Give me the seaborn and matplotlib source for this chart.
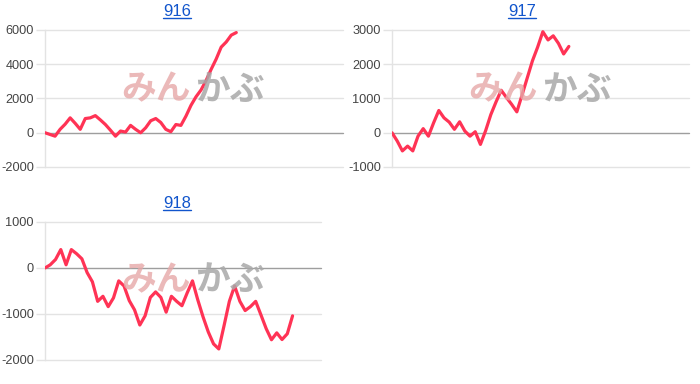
import matplotlib
matplotlib.use("Agg")
import matplotlib.pyplot as plt
import seaborn as sns
import pandas as pd
import numpy as np
from matplotlib.lines import Line2D

sns.set_theme(style="white")
plt.rcParams['font.family'] = ['Liberation Sans', 'Noto Sans CJK JP', 'DejaVu Sans']

titles = ["916", "917", "918"]

values_916 = [0, -100, -200, 200, 500, 870, 550, 200, 830, 870, 1000, 750, 480, 150,
              -200, 100, 40, 430, 200, 0, 290, 700, 830, 600, 200, 60, 480, 430, 970,
              1600, 2100, 2500, 3050, 3700, 4300, 5000, 5300, 5700, 5850]
values_917 = [0, -240, -530, -390, -530, -100, 120, -100, 290, 650, 435, 310, 100, 320,
              50, -100, 30, -340, 60, 530, 900, 1240, 1030, 830, 610, 1100, 1600, 2100,
              2500, 2950, 2710, 2830, 2610, 2300, 2520]
values_918 = [0, 70, 185, 400, 70, 400, 310, 200, -100, -300, -725, -615, -840, -650,
              -280, -390, -710, -910, -1240, -1040, -640, -520, -640, -960, -615, -725,
              -820, -540, -280, -690, -1060, -1390, -1650, -1760, -1250, -725, -390, -725,
              -925, -840, -725, -1020, -1320, -1560, -1410, -1555, -1430, -1040]

series = [values_916, values_917, values_918]
yticks = [[-2000, 0, 2000, 4000, 6000], [-1000, 0, 1000, 2000, 3000], [-2000, -1000, 0, 1000]]
xmax = [59.2, 57.1, 52.4]

W, H = 700, 384
fig = plt.figure(figsize=(7, 3.84), dpi=100)
# axes rectangles in pixels: left, right, top, bottom
rects = [(45, 343, 30, 167), (392, 689, 30, 167), (45, 321, 222, 360)]
title_pos = [(177, 12), (522, 12), (177, 204)]
wm_pos = [(193, 90), (540, 90), (193, 281)]

LINE = '#ff3355'
GRID = '#e3e3e3'
ZERO = '#9e9e9e'

for i in range(3):
    l, r, t, b = rects[i]
    ax = fig.add_axes([l / W, 1 - b / H, (r - l) / W, (b - t) / H])
    df = pd.DataFrame({'x': np.arange(len(series[i])), 'y': series[i]})
    sns.lineplot(data=df, x='x', y='y', ax=ax, color=LINE, linewidth=2.3, zorder=5)
    ax.set_xlim(0, xmax[i])
    ax.set_ylim(yticks[i][0], yticks[i][-1])
    ax.set_yticks(yticks[i])
    ax.set_yticklabels([str(v) for v in yticks[i]], fontsize=9.2, color='#444444')
    ax.set_xticks([])
    ax.set_xlabel('')
    ax.set_ylabel('')
    for v in yticks[i]:
        ax.axhline(v, color=ZERO if v == 0 else GRID, linewidth=1.0, zorder=1, clip_on=False)
    for s in ['top', 'right', 'bottom']:
        ax.spines[s].set_visible(False)
    ax.spines['left'].set_color(GRID)
    ax.spines['left'].set_linewidth(1.0)
    ax.tick_params(axis='y', length=6.5, width=1.0, pad=1.5, color=GRID, left=True)
    for tk, v in zip(ax.yaxis.get_major_ticks(), yticks[i]):
        if v == 0:
            tk.tick1line.set_color(ZERO)
    ax.patch.set_alpha(0)
    # watermark
    wx, wy = wm_pos[i]
    fig.text(wx / W - 0.003, 1 - wy / H, "みん", color='#e6a8a8', alpha=0.8,
             fontsize=25, fontweight='bold', ha='right', va='center',
             zorder=0)
    fig.text(wx / W + 0.003, 1 - wy / H, "かぶ", color='#a8a8a8', alpha=0.85,
             fontsize=25, fontweight='bold', ha='left', va='center',
             zorder=0)

# titles with underline
title_texts = []
for i in range(3):
    tx, ty = title_pos[i]
    txt = fig.text(tx / W, 1 - ty / H, titles[i], color='#1155cc', fontsize=12,
                   ha='center', va='center')
    title_texts.append(txt)

fig.canvas.draw()
renderer = fig.canvas.get_renderer()
for txt in title_texts:
    bb = txt.get_window_extent(renderer)
    y = (bb.y0 + 1.5) / H
    fig.add_artist(Line2D([bb.x0 / W, bb.x1 / W], [y, y], color='#1155cc', linewidth=1.0,
                          transform=fig.transFigure))

fig.savefig('out.png', dpi=100)
